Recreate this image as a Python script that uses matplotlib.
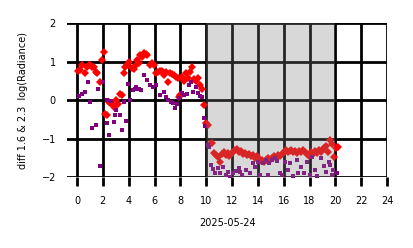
import numpy as np
import matplotlib
matplotlib.use("Agg")
import matplotlib.pyplot as plt

# hours of day (UTC) and radiance difference
red_hours = [0.1, 0.23, 0.4, 0.6, 0.75, 0.9, 1.0, 1.15, 1.3, 1.45, 1.55, 1.8,
             1.95, 2.1, 2.2, 2.3, 2.45, 2.55, 2.75, 2.9, 3.05, 3.2, 3.3, 3.45,
             3.6, 3.75, 3.9, 4.05, 4.25, 4.4, 4.55, 4.65, 4.8, 4.9, 5.05, 5.2,
             5.35, 5.45, 5.65, 5.8, 5.95, 6.1, 6.25, 6.4, 6.55, 6.7, 6.9, 7.05,
             7.2, 7.35, 7.5, 7.65, 7.8, 7.9, 8.0, 8.15, 8.3, 8.45, 8.6, 8.75,
             8.9, 9.05, 9.2, 9.35, 9.5, 9.65, 9.8, 9.95, 10.1,
             10.3, 10.45, 10.6, 10.75, 10.9, 11.05, 11.2, 11.35, 11.5, 11.65,
             11.8, 11.95, 12.1, 12.25, 12.4, 12.55, 12.7, 12.85, 13.0, 13.15,
             13.3, 13.45, 13.6, 13.75, 13.9, 14.05, 14.2, 14.35, 14.5, 14.65,
             14.8, 14.95, 15.1, 15.25, 15.4, 15.55, 15.7, 15.85, 16.0, 16.15,
             16.3, 16.45, 16.6, 16.75, 16.9, 17.05, 17.2, 17.35, 17.5, 17.65,
             17.8, 17.95, 18.1, 18.25, 18.4, 18.55, 18.7, 18.85, 19.0, 19.15,
             19.3, 19.45, 19.6, 19.75, 19.9, 20.05, 20.2]
red_diff = [0.75, 0.78, 0.9, 0.7, 0.86, 0.92, 0.9, 0.85, 0.86, 0.72, 0.7, 0.48,
            1.04, 1.25, -0.35, -0.4, -0.05, -0.08, -0.12, -0.18, 0.0, -0.1,
            0.17, 0.12, 0.7, 0.85, 0.9, 1.0, 0.83, 0.8, 0.9, 1.04, 0.95, 1.17,
            1.12, 1.22, 1.2, 1.18, 0.9, 0.95, 0.92, 0.7, 0.72, 0.75, 0.75,
            0.65, 0.73, 0.47, 0.7, 0.68, 0.65, 0.6, 0.57, 0.08, 0.13, 0.6,
            0.5, 0.7, 0.57, 0.73, 0.86, 0.55, 0.5, 0.57, 0.39, 0.3, -0.13,
            -0.6, -0.65,
            -1.15, -1.12, -1.38, -1.42, -1.48, -1.6, -1.4, -1.35, -1.42, -1.38,
            -1.45, -1.4, -1.35, -1.3, -1.28, -1.35, -1.32, -1.4, -1.38, -1.42,
            -1.4, -1.45, -1.42, -1.5, -1.45, -1.52, -1.58, -1.55, -1.6, -1.55,
            -1.5, -1.55, -1.5, -1.45, -1.5, -1.42, -1.45, -1.4, -1.35, -1.3,
            -1.35, -1.32, -1.3, -1.35, -1.32, -1.38, -1.32, -1.35, -1.3, -1.35,
            -1.4, -1.45, -1.35, -1.4, -1.32, -1.38, -1.3, -1.35, -1.3, -1.25,
            -1.2, -1.35, -1.05, -1.15, -1.48, -1.25, -1.22]

purple_hours = [0.15, 0.35, 0.6, 0.85, 1.0, 1.15, 1.45, 1.6, 1.8, 2.0, 2.3,
                2.35, 2.45, 2.65, 2.85, 2.95, 3.0, 3.3, 3.5, 3.65, 3.8, 3.95,
                4.1, 4.3, 4.45, 4.6, 4.8, 4.95, 5.15, 5.4, 5.65, 5.9, 6.15,
                6.4, 6.7, 6.85, 7.05, 7.25, 7.45, 7.6, 7.75, 7.9, 8.1, 8.3, 8.5,
                8.7, 8.85, 9.0, 9.2, 9.35, 9.55, 9.7, 9.8, 9.9, 10.1, 10.2,
                10.4, 10.55, 10.7, 10.9, 11.1, 11.3, 11.5, 11.7, 11.85, 12.1,
                12.3, 12.5, 12.65, 12.8, 13.1, 13.4, 13.6, 13.8, 14.0, 14.2,
                14.4, 14.6, 14.75, 14.85, 15.1, 15.3, 15.5, 15.7, 15.9, 16.1,
                16.3, 16.5, 16.7, 17.0, 17.1, 17.3, 17.6, 17.8, 18.0, 18.2,
                18.4, 18.6, 18.9, 19.1, 19.3, 19.5, 19.6, 19.7, 19.85, 20.1]
purple_diff = [0.1, 0.15, 0.2, 0.47, -0.05, -0.72, -0.65, 0.3, -1.7, 0.47,
               -0.6, 0.0, -0.9, -0.02, -0.57, -0.4, -0.26, -0.4, -0.78, -0.05,
               -0.55, 0.43, 0.0, 0.26, 0.3, 0.35, 0.28, 0.26, 0.65, 0.52, 0.4,
               0.35, 0.39, 0.13, 0.2, 0.08, 0.0, -0.04, -0.08, -0.21, -0.1,
               0.05, 0.18, 0.13, 0.15, 0.39, 0.47, 0.2, 0.35, 0.18, 0.1, 0.08,
               -0.47, -0.68, -1.17, -1.22, -1.69, -1.8, -1.9, -1.77, -1.9,
               -1.74, -1.95, -1.87, -2.0, -1.9, -1.85, -1.77, -1.88, -1.95,
               -1.82, -1.9, -1.64, -1.75, -1.6, -1.95, -1.64, -1.56, -1.95,
               -1.64, -1.56, -1.51, -1.58, -1.9, -1.95, -1.6, -1.82, -1.64,
               -1.96, -1.56, -1.9, -1.75, -1.9, -1.6, -1.95, -1.48, -1.82,
               -1.96, -1.51, -1.7, -1.87, -1.6, -1.69, -1.95, -1.82, -1.9]

hour_ticks = list(range(0, 25, 2))
diff_ticks = [-2, -1, 0, 1, 2]

fig = plt.figure(figsize=(4.14, 2.48), dpi=100)
ax = fig.add_axes([0.162, 0.286, 0.773, 0.621])

ax.grid(True, color='black', linewidth=2)
ax.set_axisbelow(True)
for side in ax.spines:
    ax.spines[side].set_visible(False)

ax.plot(red_hours, red_diff, 'D', color='red', markersize=3.8,
        markeredgewidth=0, zorder=2)
ax.plot(purple_hours, purple_diff, 's', color='purple', markersize=2.8,
        markeredgewidth=0, zorder=2)

# night-time window
ax.axvspan(10, 20, color='gray', alpha=0.3, linewidth=0, zorder=3)

ax.set_xlim(-0.77, 24)
ax.set_ylim(-2, 2)
ax.set_xticks(hour_ticks)
ax.set_yticks(diff_ticks)
ax.tick_params(axis='x', length=6.5, width=2, labelsize=7, pad=7)
ax.tick_params(axis='y', length=0, labelsize=7, pad=8)
ax.set_xlabel('2025-05-24', fontsize=7, labelpad=9)
ax.set_ylabel('diff 1.6 & 2.3  log(Radiance)', fontsize=7, labelpad=10)

fig.savefig('out.png', dpi=100)
